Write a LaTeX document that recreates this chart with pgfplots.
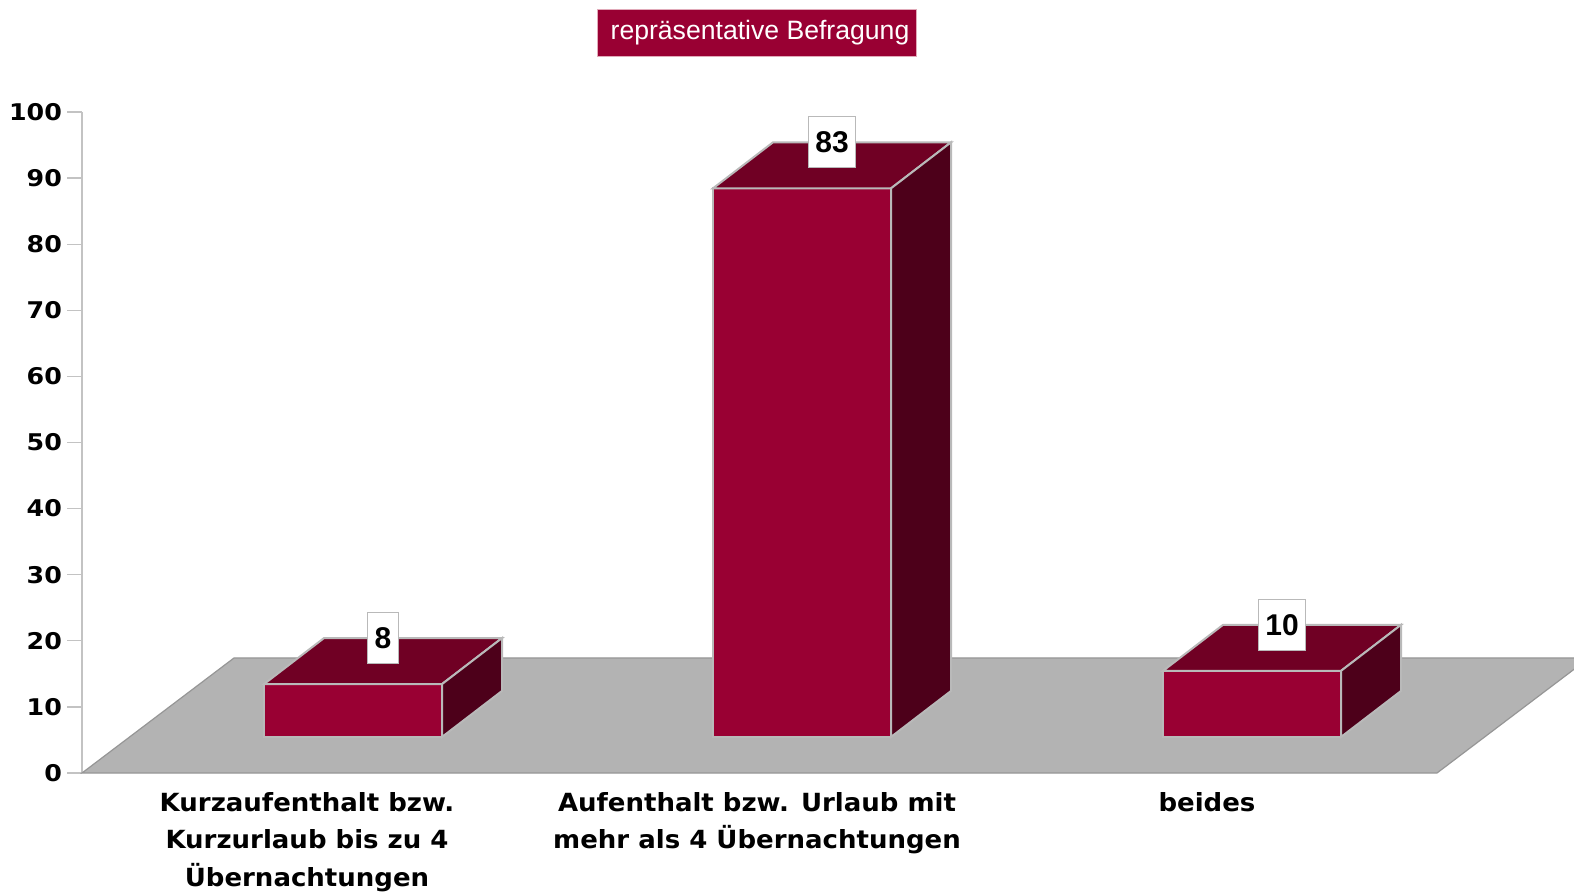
\documentclass[border=0pt]{standalone}
\usepackage{fontspec}
\usepackage{pgfplots}
\pgfplotsset{compat=1.18}
\usepackage{pgfplotstable}
\setmainfont{DejaVu Sans}
\newfontfamily\tickfont[FakeStretch=1.1]{DejaVu Sans}
\newfontfamily\catfont[FakeStretch=1.04]{DejaVu Sans}
\newfontfamily\lib{Liberation Sans}
\definecolor{barfront}{RGB}{153,0,51}
\definecolor{bartop}{RGB}{112,0,36}
\definecolor{barside}{RGB}{77,0,26}
\definecolor{floorc}{RGB}{179,179,179}
\definecolor{floorline}{RGB}{150,150,150}
\definecolor{edge}{RGB}{185,185,185}
\definecolor{axisgray}{RGB}{195,195,195}
\definecolor{pinkedge}{RGB}{225,170,185}

% x: category position along front floor edge (axis units), v: value
% lx, ly: position of value label (back edge of the bar top)
\pgfplotstableread{
x    v   lx    ly
225  8   301   20.41
675  83  750   95.41
1125 10  1200  22.41
}\data

\begin{document}
\begin{tikzpicture}
\useasboundingbox (-41pt,-60.5pt) rectangle (746pt,386.5pt);
\begin{axis}[
  at={(0,0)}, anchor=south west,
  scale only axis, width=746pt, height=330.5pt,
  xmin=0, xmax=1492, ymin=0, ymax=100,
  clip=false,
  axis lines*=left,
  x axis line style={draw=none},
  y axis line style={draw=axisgray, line width=0.6pt},
  ytick={0,10,...,100},
  ytick style={draw=axisgray, line width=0.6pt},
  tick align=outside, major tick length=7.5pt,
  /pgf/number format/assume math mode=true,
  yticklabel style={font=\tickfont\bfseries\fontsize{11.5}{13}\selectfont, xshift=1pt},
  xtick={225,675,1125},
  xticklabels={{Kurzaufenthalt bzw.\\Kurzurlaub bis zu 4\\Übernachtungen},
               {Aufenthalt bzw. Urlaub mit\\mehr als 4 Übernachtungen},
               {beides}},
  xtick style={draw=none},
  xticklabel style={font=\catfont\bfseries\fontsize{12.5}{18.75}\selectfont, align=center, yshift=1.5pt},
]
% floor
\addplot[fill=floorc, draw=floorline, line width=0.6pt] coordinates {(0,0) (1355,0) (1507,17.4) (152,17.4)} -- cycle;
% bar 1 (8)
\addplot[fill=barfront, draw=edge, line width=1pt] coordinates {(182,5.45) (360,5.45) (360,13.45) (182,13.45)} -- cycle;
\addplot[fill=bartop, draw=edge, line width=1pt] coordinates {(182,13.45) (360,13.45) (420,20.41) (242,20.41)} -- cycle;
\addplot[fill=barside, draw=edge, line width=1pt] coordinates {(360,5.45) (420,12.41) (420,20.41) (360,13.45)} -- cycle;
% bar 2 (83)
\addplot[fill=barfront, draw=edge, line width=1pt] coordinates {(631,5.45) (809,5.45) (809,88.45) (631,88.45)} -- cycle;
\addplot[fill=bartop, draw=edge, line width=1pt] coordinates {(631,88.45) (809,88.45) (869,95.41) (691,95.41)} -- cycle;
\addplot[fill=barside, draw=edge, line width=1pt] coordinates {(809,5.45) (869,12.41) (869,95.41) (809,88.45)} -- cycle;
% bar 3 (10)
\addplot[fill=barfront, draw=edge, line width=1pt] coordinates {(1081,5.45) (1259,5.45) (1259,15.45) (1081,15.45)} -- cycle;
\addplot[fill=bartop, draw=edge, line width=1pt] coordinates {(1081,15.45) (1259,15.45) (1319,22.41) (1141,22.41)} -- cycle;
\addplot[fill=barside, draw=edge, line width=1pt] coordinates {(1259,5.45) (1319,12.41) (1319,22.41) (1259,15.45)} -- cycle;
% value labels
\addplot[draw=none, mark=none, nodes near coords, point meta=explicit symbolic,
  nodes near coords style={anchor=center, fill=white, draw=edge, line width=0.6pt,
    inner xsep=3.5pt, inner ysep=0pt, minimum height=25.5pt,
    font=\lib\bfseries\fontsize{15}{16}\selectfont, text=black}]
  table[x=lx, y=ly, meta=v] {\data};
% title
\node[fill=barfront, draw=pinkedge, line width=0.5pt, text=white,
  font=\lib\fontsize{13.3}{15}\selectfont, minimum width=159.5pt, minimum height=23.5pt,
  inner sep=0pt] at (axis cs:674.5,112.0) {\hspace{3.5pt}repräsentative Befragung};
\end{axis}
\end{tikzpicture}
\end{document}
